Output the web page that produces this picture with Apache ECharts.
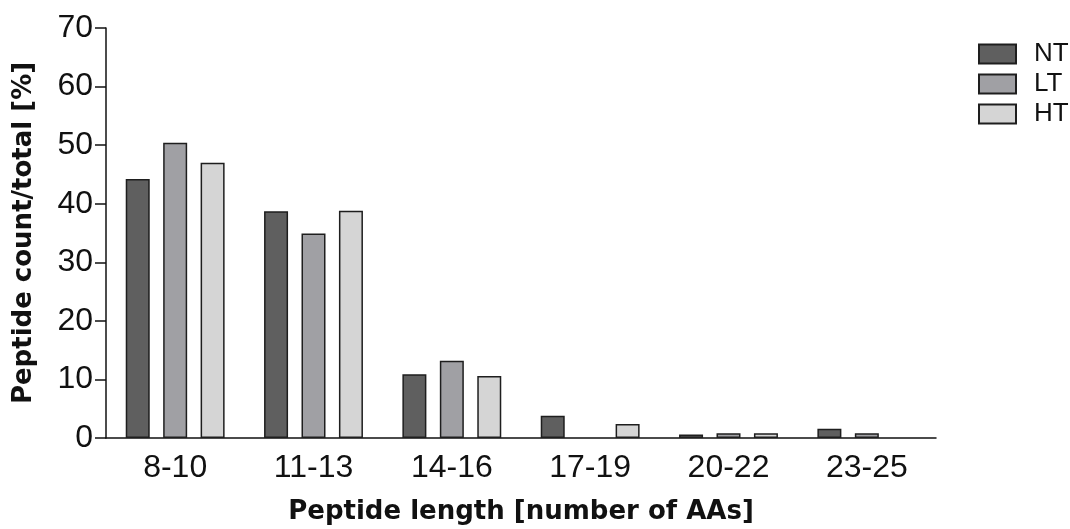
<!DOCTYPE html>
<html>
<head>
<meta charset="utf-8">
<script src="https://cdn.jsdelivr.net/npm/echarts@6/dist/echarts.min.js"></script>
<style>
  html, body { margin: 0; padding: 0; background: #fff; }
  #chart { width: 1070px; height: 529px; }
</style>
</head>
<body>
<div id="chart"></div>
<script>
const categories = ['8-10', '11-13', '14-16', '17-19', '20-22', '23-25']
const ntValues = [44.2, 38.7, 10.9, 3.8, 0.6, 1.6]
const ltValues = [50.4, 34.9, 13.2, 0, 0.8, 0.8]
const htValues = [47.0, 38.8, 10.6, 2.4, 0.8, 0]
const yTicks = [0, 10, 20, 30, 40, 50, 60, 70]

const font = 'Liberation Sans, Arial, sans-serif'
const titleFont = 'DejaVu Sans, sans-serif'
const border = '#1e1e1e'

function barSeries(name, data, color) {
    return {
        name: name,
        type: 'bar',
        // empty bins are simply not drawn in the figure
        data: data.map(v => (v === 0 ? '-' : v)),
        barWidth: 24,
        barGap: '56%',
        itemStyle: {
            color: color,
            borderColor: border,
            borderWidth: 1.5
        }
    }
}

const chart = echarts.init(document.getElementById('chart'), null, {renderer: 'canvas'})

chart.setOption({
    animation: false,
    textStyle: {fontFamily: font},
    grid: {left: 106, right: 134, top: 28, bottom: 91, outerBoundsMode: 'none'},
    legend: {
        left: 973,
        top: 36,
        orient: 'vertical',
        itemWidth: 37,
        itemHeight: 19,
        itemGap: 4,
        icon: 'rect',
        textStyle: {fontSize: 26, color: '#111', padding: [0, 0, 0, 13], fontFamily: font},
        data: ['NT', 'LT', 'HT']
    },
    xAxis: {
        type: 'category',
        data: categories,
        name: 'Peptide length [number of AAs]',
        nameLocation: 'middle',
        nameGap: 61,
        nameTextStyle: {fontSize: 26, fontWeight: 'bold', color: '#111', fontFamily: titleFont},
        axisLine: {lineStyle: {color: '#111', width: 1.5}},
        axisTick: {alignWithLabel: true, length: 11, lineStyle: {color: '#111', width: 1.5}},
        axisLabel: {fontSize: 32, color: '#111', margin: 14, fontFamily: font}
    },
    yAxis: {
        type: 'value',
        min: yTicks[0],
        max: yTicks[yTicks.length - 1],
        interval: 10,
        name: 'Peptide count/total [%]',
        nameLocation: 'middle',
        nameGap: 69,
        nameRotate: 90,
        nameTextStyle: {fontSize: 26, fontWeight: 'bold', color: '#111', fontFamily: titleFont},
        axisLine: {show: true, lineStyle: {color: '#111', width: 1.5}},
        axisTick: {show: true, length: 11, lineStyle: {color: '#111', width: 1.5}},
        axisLabel: {fontSize: 32, color: '#111', margin: 13, fontFamily: font},
        splitLine: {show: false}
    },
    series: [
        barSeries('NT', ntValues, '#5f5f5f'),
        barSeries('LT', ltValues, '#a0a0a4'),
        barSeries('HT', htValues, '#d5d5d5')
    ]
})
</script>
</body>
</html>
